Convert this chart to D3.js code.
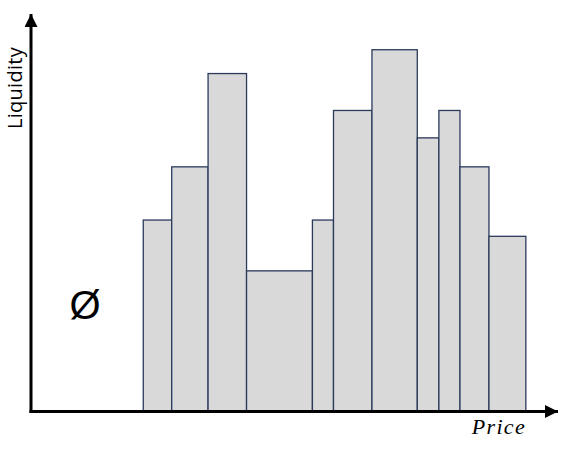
<!DOCTYPE html>
<html>
<head>
<meta charset="utf-8">
<script src="https://cdn.jsdelivr.net/npm/d3@7"></script>
<style>
  html, body { margin: 0; padding: 0; background: #fff; }
  svg { display: block; }
</style>
</head>
<body>
<svg id="chart" width="573" height="458"></svg>
<script>
// price bucket edges (left edge of each bar, last value closes the final bar)
let priceEdges = [21.3, 26.7, 33.6, 40.9, 53.4, 57.4, 64.7, 73.3, 77.4, 81.4, 86.9, 93.9];
// liquidity for each bucket
let liquidity = [48.1, 61.5, 85.0, 35.3, 48.1, 75.7, 91.0, 68.8, 75.7, 61.5, 44.0];

let xLabel = "Price";
let yLabel = "Liquidity";
let emptyLabel = "\u00D8";

const svg = d3.select("#chart");

const origin = {x: 31, y: 411};
const xScale = d3.scaleLinear().domain([0, 100]).range([origin.x, 558]);
const yScale = d3.scaleLinear().domain([0, 100]).range([origin.y, 14]);

let bars = liquidity.map((v, i) => ({x0: priceEdges[i], x1: priceEdges[i + 1], value: v}));

svg.selectAll(".bar")
    .data(bars)
    .join("rect")
    .attr("class", "bar")
    .attr("x", d => xScale(d.x0))
    .attr("y", d => yScale(d.value))
    .attr("width", d => xScale(d.x1) - xScale(d.x0))
    .attr("height", d => yScale(0) - yScale(d.value))
    .attr("fill", "#d9d9d9")
    .attr("stroke", "#2b3a5c")
    .attr("stroke-width", 1.3);

// axes with arrow heads
svg.append("defs").append("marker")
    .attr("id", "arrow")
    .attr("viewBox", "0 0 10 10")
    .attr("refX", 10)
    .attr("refY", 5)
    .attr("markerUnits", "userSpaceOnUse")
    .attr("markerWidth", 13)
    .attr("markerHeight", 13)
    .attr("orient", "auto")
    .append("path")
    .attr("d", "M0,0 L10,5 L0,10 Z")
    .attr("fill", "#000");

svg.append("line")
    .attr("x1", origin.x - 1.5)
    .attr("y1", yScale(0) + 0.5)
    .attr("x2", xScale(100))
    .attr("y2", yScale(0) + 0.5)
    .attr("stroke", "#000")
    .attr("stroke-width", 3)
    .attr("marker-end", "url(#arrow)");

svg.append("line")
    .attr("x1", origin.x)
    .attr("y1", yScale(0) + 2)
    .attr("x2", origin.x)
    .attr("y2", yScale(100))
    .attr("stroke", "#000")
    .attr("stroke-width", 3)
    .attr("marker-end", "url(#arrow)");

// labels
svg.append("text")
    .attr("x", 526)
    .attr("y", 434)
    .attr("text-anchor", "end")
    .attr("font-family", "Liberation Serif, serif")
    .attr("font-style", "italic")
    .attr("font-size", 22)
    .attr("letter-spacing", 1.3)
    .text(xLabel);

svg.append("text")
    .attr("transform", "translate(22,88) rotate(-90)")
    .attr("text-anchor", "middle")
    .attr("font-family", "Open Sans, sans-serif")
    .attr("font-size", 20)
    .attr("letter-spacing", 0.3)
    .text(yLabel);

svg.append("text")
    .attr("x", 85)
    .attr("y", 319)
    .attr("text-anchor", "middle")
    .attr("font-family", "Liberation Sans, sans-serif")
    .attr("font-size", 40)
    .text(emptyLabel);
</script>
</body>
</html>
